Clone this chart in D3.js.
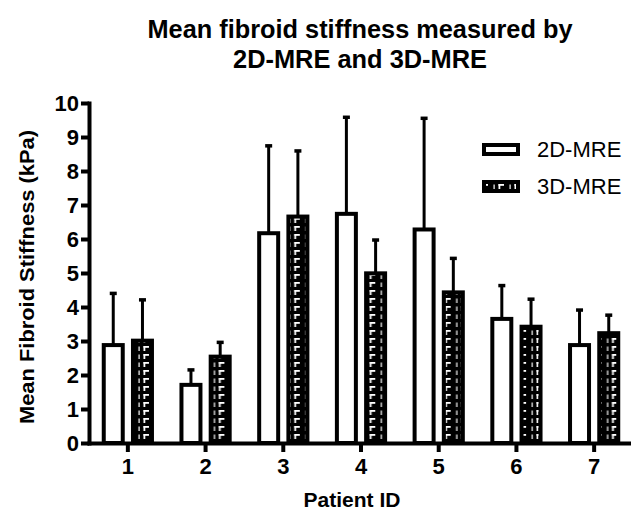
<!DOCTYPE html>
<html>
<head>
<meta charset="utf-8">
<script src="https://cdn.jsdelivr.net/npm/d3@7"></script>
<style>
    body { margin: 0; background: white; }
    svg { display: block; font-family: "Liberation Sans", Arial, sans-serif; }
</style>
</head>
<body>
<div id="chart"></div>
<script>
// data
const patients = ['1', '2', '3', '4', '5', '6', '7'];
const series = ['2D-MRE', '3D-MRE'];
const mean2D = [2.88, 1.71, 6.17, 6.74, 6.28, 3.65, 2.88];
const err2D = [4.40, 2.15, 8.74, 9.58, 9.55, 4.63, 3.91];
const mean3D = [3.01, 2.54, 6.66, 4.99, 4.43, 3.42, 3.23];
const err3D = [4.21, 2.96, 8.59, 5.97, 5.43, 4.23, 3.76];
const yTicks = [0, 1, 2, 3, 4, 5, 6, 7, 8, 9, 10];

const width = 631, height = 514;
const plotLeft = 89, plotRight = 633, plotTop = 103, plotBottom = 443;

const svg = d3.select('#chart')
    .append('svg')
    .attr('width', width)
    .attr('height', height)
    .style('background', 'white');

const x0 = d3.scaleBand()
    .domain(patients)
    .range([plotLeft, plotRight]);

const x1 = d3.scaleBand()
    .domain(series)
    .range([14.75, x0.bandwidth() - 14.75])
    .paddingInner(0.35);

const y = d3.scaleLinear()
    .domain([0, 10])
    .range([plotBottom, plotTop]);

// pattern for the 3D bars
const defs = svg.append('defs');
function makePattern(id, px) {
    const p = defs.append('pattern')
        .attr('id', id)
        .attr('patternUnits', 'userSpaceOnUse')
        .attr('x', px)
        .attr('y', 1)
        .attr('width', 16)
        .attr('height', 8);
    p.append('rect').attr('width', 16).attr('height', 8).attr('fill', 'black');
    p.append('rect').attr('x', 1.5).attr('y', 1).attr('width', 1.8).attr('height', 5).attr('fill', 'white');
    p.append('rect').attr('x', 1.5).attr('y', 1).attr('width', 5.5).attr('height', 1.8).attr('fill', 'white');
    p.append('rect').attr('x', 12.5).attr('y', 1.5).attr('width', 1.2).attr('height', 4.5).attr('fill', 'white');
}

const rows = patients.map((p, i) => ({
    id: p,
    vals: [
        { s: '2D-MRE', v: mean2D[i], e: err2D[i] },
        { s: '3D-MRE', v: mean3D[i], e: err3D[i] }
    ]
}));

rows.forEach((r, i) => makePattern('pat' + i, x0(r.id) + x1('3D-MRE')));

const groups = svg.selectAll('.grp')
    .data(rows)
    .join('g')
    .attr('class', 'grp')
    .attr('transform', d => `translate(${x0(d.id)},0)`);

// error bars (upper only)
groups.selectAll('.err')
    .data(d => d.vals)
    .join('line')
    .attr('class', 'err')
    .attr('x1', d => x1(d.s) + x1.bandwidth() / 2)
    .attr('x2', d => x1(d.s) + x1.bandwidth() / 2)
    .attr('y1', d => y(d.v))
    .attr('y2', d => y(d.e))
    .attr('stroke', 'black')
    .attr('stroke-width', 3);

groups.selectAll('.cap')
    .data(d => d.vals)
    .join('line')
    .attr('class', 'cap')
    .attr('x1', d => x1(d.s) + x1.bandwidth() / 2 - 3.5)
    .attr('x2', d => x1(d.s) + x1.bandwidth() / 2 + 3.5)
    .attr('y1', d => y(d.e))
    .attr('y2', d => y(d.e))
    .attr('stroke', 'black')
    .attr('stroke-width', 3.5);

groups.each(function (r, i) {
    d3.select(this).selectAll('rect')
        .data(r.vals)
        .join('rect')
        .attr('x', d => x1(d.s))
        .attr('y', d => y(d.v))
        .attr('width', x1.bandwidth())
        .attr('height', d => y(0) - y(d.v))
        .attr('fill', d => d.s === '2D-MRE' ? 'white' : `url(#pat${i})`)
        .attr('stroke', 'black')
        .attr('stroke-width', 4);
});

// axes
const yAxis = svg.append('g')
    .attr('transform', `translate(${plotLeft},0)`)
    .call(d3.axisLeft(y).tickValues(yTicks).tickSize(8).tickSizeOuter(0).tickPadding(2));

const xAxis = svg.append('g')
    .attr('transform', `translate(0,${plotBottom})`)
    .call(d3.axisBottom(x0).tickSize(9).tickSizeOuter(0).tickPadding(6));

[yAxis, xAxis].forEach(a => {
    a.select('.domain').attr('stroke-width', 4).attr('stroke-linecap', 'square');
    a.selectAll('.tick line').attr('stroke-width', 4);
    a.selectAll('.tick text')
        .attr('fill', 'black')
        .style('font-size', '22px')
        .style('font-weight', 'bold')
        .style('font-family', '"Liberation Sans", Arial, sans-serif');
});

// titles
const title = svg.append('g')
    .style('font-weight', 'bold')
    .style('font-size', '26px')
    .attr('text-anchor', 'middle');
title.append('text')
    .attr('x', 360).attr('y', 38)
    .attr('textLength', 425).attr('lengthAdjust', 'spacingAndGlyphs')
    .text('Mean fibroid stiffness measured by');
title.append('text')
    .attr('x', 360).attr('y', 68)
    .attr('textLength', 254).attr('lengthAdjust', 'spacingAndGlyphs')
    .text('2D-MRE and 3D-MRE');

svg.append('text')
    .attr('transform', 'translate(34,277) rotate(-90)')
    .attr('text-anchor', 'middle')
    .style('font-weight', 'bold')
    .style('font-size', '21px')
    .attr('textLength', 294).attr('lengthAdjust', 'spacingAndGlyphs')
    .text('Mean Fibroid Stiffness (kPa)');

svg.append('text')
    .attr('x', 352).attr('y', 507)
    .attr('text-anchor', 'middle')
    .style('font-weight', 'bold')
    .style('font-size', '21px')
    .text('Patient ID');

// legend
makePattern('patLeg', 493);
const legend = svg.selectAll('.leg')
    .data(series)
    .join('g')
    .attr('class', 'leg')
    .attr('transform', (d, i) => `translate(484,${145 + i * 37})`);

legend.append('rect')
    .attr('width', 34)
    .attr('height', 9)
    .attr('fill', (d, i) => i === 0 ? 'white' : 'url(#patLeg)')
    .attr('stroke', 'black')
    .attr('stroke-width', 4);

legend.append('text')
    .attr('x', 53)
    .attr('y', 12)
    .style('font-size', '22px')
    .text(d => d);
</script>
</body>
</html>
